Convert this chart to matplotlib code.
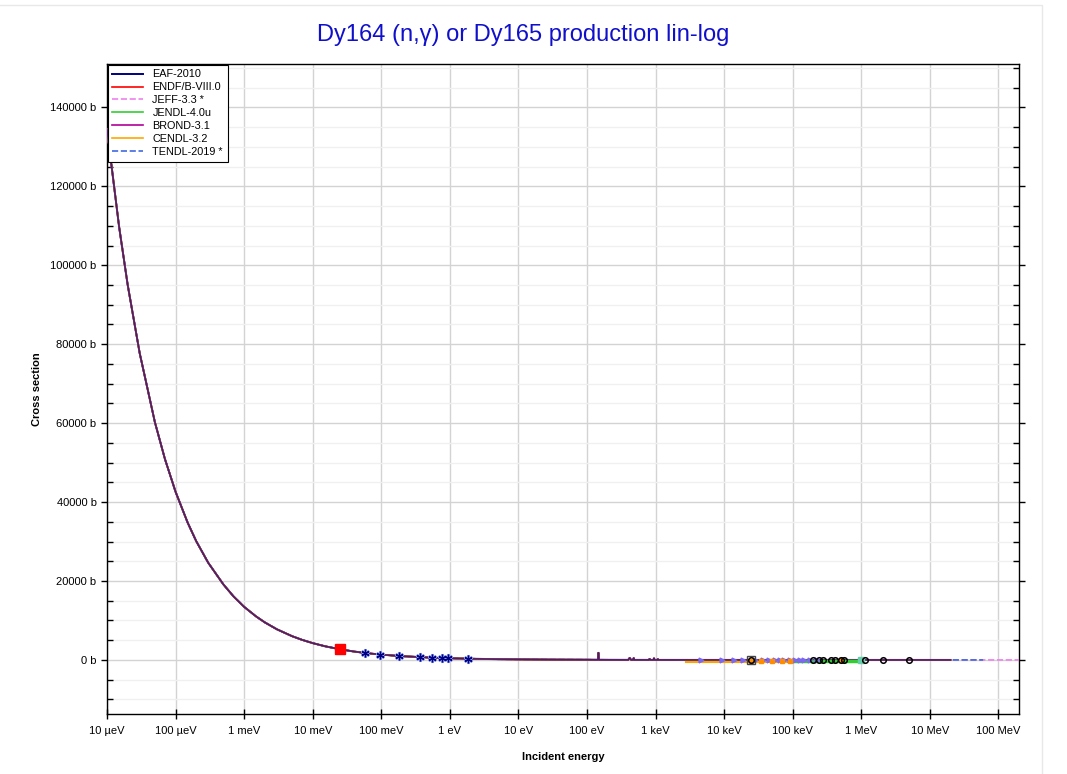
import matplotlib
matplotlib.use("Agg")
import matplotlib.pyplot as plt
from matplotlib.ticker import FixedLocator, MultipleLocator, FuncFormatter
from matplotlib.patches import Rectangle

plt.rcParams['font.family'] = ['Liberation Sans', 'DejaVu Sans']

# ---------------- data ----------------
title = "Dy164 (n,γ) or Dy165 production lin-log"

# evaluated cross section (eV, barn)
eval_E = [1e-5, 1.5e-5, 2e-5, 3e-5, 5e-5, 7e-5, 1e-4, 1.5e-4, 2e-4, 3e-4, 5e-4, 7e-4,
          1e-3, 1.5e-3, 2e-3, 3e-3, 5e-3, 7e-3, 1e-2, 1.5e-2, 2.53e-2, 4e-2, 6e-2,
          0.1, 0.2, 0.5, 1.0, 2.0, 5.0, 10.0, 30.0, 100.0, 144.0, 147.0, 150.0,
          200.0, 400.0, 420.0, 440.0, 470.0, 480.0, 490.0, 800.0, 820.0, 840.0,
          930.0, 950.0, 970.0, 1060.0, 1080.0, 1100.0, 3e3, 1e4, 3e4, 1e5, 3e5,
          1e6, 3e6, 1e7, 2e7, 6e7, 2e8]
eval_s = [134500, 109800, 95100, 77700, 60200, 50900, 42600, 34800, 30100, 24600, 19100, 16100,
          13450, 11000, 9520, 7770, 6020, 5090, 4260, 3480, 2680, 2130, 1740,
          1340, 950, 600, 420, 300, 190, 140, 80, 50, 30, 1800, 30,
          25, 15, 500, 15, 12, 450, 12, 8, 250, 8,
          7, 400, 7, 6, 200, 6, 4, 2, 1, 0.5, 0.25,
          0.12, 0.02, 0.001, 0.0005, 0.0002, 0.0001]

libraries = ["EAF-2010", "ENDF/B-VIII.0", "JEFF-3.3 *", "JENDL-4.0u",
             "BROND-3.1", "CENDL-3.2", "TENDL-2019 *"]
lib_emax = [2e7, 2e7, 2e8, 2e7, 2e7, 2e7, 6e7]

# experimental data
exp_sq_E = [0.0253]
exp_sq_s = [2700]
exp_ast_E = [0.057, 0.095, 0.18, 0.37, 0.55, 0.76, 0.95, 1.83]
exp_ast_s = [1760, 1370, 990, 690, 570, 480, 430, 310]
exp_tri_E = [4.6e3, 9.3e3, 1.38e4, 1.9e4, 2.8e4, 3.7e4, 4.5e4, 5.5e4, 6.5e4,
             7.6e4, 9.0e4, 1.07e5, 1.26e5, 1.45e5, 1.8e5, 2.3e5]
exp_tri_s = [1.5, 1.0, 0.9, 0.8, 0.6, 0.5, 0.45, 0.4, 0.35, 0.33, 0.3, 0.28, 0.26, 0.24, 0.2, 0.18]
exp_orng_line_E = [2.8e3, 9.0e4]
exp_orng_line_s = [-500, -500]
exp_orng_E = [2.5e4, 3.5e4, 5e4, 7e4, 9e4, 5.1e5]
exp_orng_s = [-300, -300, -300, -300, -300, -100]
exp_circ_E = [2.5e4, 2.0e5, 2.4e5, 2.8e5, 3.6e5, 4.2e5, 5.1e5, 5.6e5, 1.14e6, 2.1e6, 5.0e6]
exp_circ_s = [0.5, 0.2, 0.2, 0.18, 0.16, 0.15, 0.13, 0.12, 0.1, 0.08, 0.05]
exp_grn_E = [1.0e5, 1.5e5, 2.0e5, 3.0e5, 4.0e5, 1.0e6]
exp_grn_s = [-150, -150, -150, -150, -150, -150]

xticks = [1e-5, 1e-4, 1e-3, 1e-2, 1e-1, 1, 10, 100, 1e3, 1e4, 1e5, 1e6, 1e7, 1e8]
xticklabels = ["10 µeV", "100 µeV", "1 meV", "10 meV", "100 meV", "1 eV", "10 eV",
               "100 eV", "1 keV", "10 keV", "100 keV", "1 MeV", "10 MeV", "100 MeV"]
yticks = [0, 20000, 40000, 60000, 80000, 100000, 120000, 140000]

# ---------------- plot ----------------
fig = plt.figure(figsize=(10.67, 7.74), dpi=100)
fig.patches.append(Rectangle((-0.01, -0.01), 1042 / 1067 + 0.01, (774 - 5) / 774 + 0.01,
                             transform=fig.transFigure, fill=False,
                             edgecolor='#e8e8e8', lw=1.0))
ax = fig.add_axes([107 / 1067, 60 / 774, (1019 - 107) / 1067, (714 - 64) / 774])

styles = {
    "EAF-2010": dict(color='#000080', ls='-', lw=1.4, zorder=3),
    "ENDF/B-VIII.0": dict(color='red', ls='-', lw=1.2, zorder=3.1),
    "JEFF-3.3 *": dict(color='violet', ls='--', lw=1.2, zorder=2.9),
    "JENDL-4.0u": dict(color='limegreen', ls='-', lw=1.2, zorder=3.2),
    "BROND-3.1": dict(color='#b0009a', ls='-', lw=1.2, zorder=3.3, alpha=0.7),
    "CENDL-3.2": dict(color='orange', ls='-', lw=1.2, zorder=3.0),
    "TENDL-2019 *": dict(color='royalblue', ls='--', lw=1.2, zorder=3.0),
}

for name, emax in zip(libraries, lib_emax):
    e = [x for x in eval_E if x <= emax]
    s = eval_s[:len(e)]
    st = dict(styles[name])
    ax.plot(e, s, **st)
    # legend proxy with full opacity
    st.pop('alpha', None)
    ax.plot([], [], label=name, **st)
n20 = len([x for x in eval_E if x <= 2e7])
ax.plot(eval_E[:n20], eval_s[:n20], color='#300060', lw=1.0, alpha=0.6, zorder=3.4)

# experimental
ax.plot(exp_orng_line_E, exp_orng_line_s, color='orange', lw=1.5, zorder=4)
ax.plot(exp_grn_E, exp_grn_s, color='limegreen', lw=2.5, zorder=4)
ax.plot(exp_tri_E, exp_tri_s, ls='none', marker='>', ms=3.5, color='mediumslateblue', zorder=5)
ax.plot(exp_orng_E, exp_orng_s, ls='none', marker='s', ms=3, color='darkorange', zorder=5)
ax.plot(exp_circ_E, exp_circ_s, ls='none', marker='o', ms=4, mfc='none', mec='black', mew=1.1, zorder=6)
ax.plot([1.0e6], [0], ls='none', marker='s', ms=4.5, color='mediumaquamarine', zorder=5)
ax.plot([2.5e4], [0], ls='none', marker='s', ms=5.5, mfc='none', mec='#444444', zorder=5)
ax.plot(exp_ast_E, exp_ast_s, ls='none', marker=(6, 2, 0), ms=6.5, color='#8899ee', mew=2.0, zorder=6)
ax.plot(exp_ast_E, exp_ast_s, ls='none', marker=(6, 2, 0), ms=5.5, color='#000080', mew=0.9, zorder=7)
ax.plot(exp_sq_E, exp_sq_s, ls='none', marker='s', ms=7, color='red', zorder=7)

ax.set_xscale('log')
ax.set_xlim(1e-5, 2e8)
ax.set_ylim(-13700, 151000)

ax.set_xticks(xticks)
ax.set_xticklabels(xticklabels)
ax.xaxis.set_minor_locator(FixedLocator([]))
ax.set_yticks(yticks)
ax.yaxis.set_major_formatter(FuncFormatter(lambda v, p: f"{int(v)} b"))
ax.yaxis.set_minor_locator(MultipleLocator(5000))

ax.tick_params(axis='x', which='major', direction='inout', length=7, width=1,
               labelsize=8, top=False, pad=5)
ax.tick_params(axis='y', which='major', direction='out', length=4, width=1,
               labelsize=8, right=True)
ax.tick_params(axis='y', which='minor', direction='in', length=4, width=1, right=True, left=True)

ax.grid(True, which='major', axis='both', color='#d3d3d3', lw=1.0, zorder=0)
ax.grid(True, which='minor', axis='y', color='#f0f0f0', lw=1.0, zorder=0)
ax.set_axisbelow(True)
for sp in ax.spines.values():
    sp.set_color('black')
    sp.set_linewidth(1.0)

ax.set_xlabel("Incident energy", fontsize=8, fontweight='bold', labelpad=12)
ax.set_ylabel("Cross section", fontsize=8, fontweight='bold', labelpad=6)
fig.text(523 / 1067, 1 - 35 / 774, title, color='#1010cc', fontsize=17,
         ha='center', va='center')

leg = ax.legend(loc='upper left', fontsize=7.8, frameon=True, fancybox=False,
                edgecolor='black', framealpha=1.0, borderaxespad=0.05,
                handlelength=2.8, labelspacing=0.27, borderpad=0.45, handletextpad=0.9)
leg.get_frame().set_linewidth(0.8)

fig.savefig("out.png", dpi=100)
